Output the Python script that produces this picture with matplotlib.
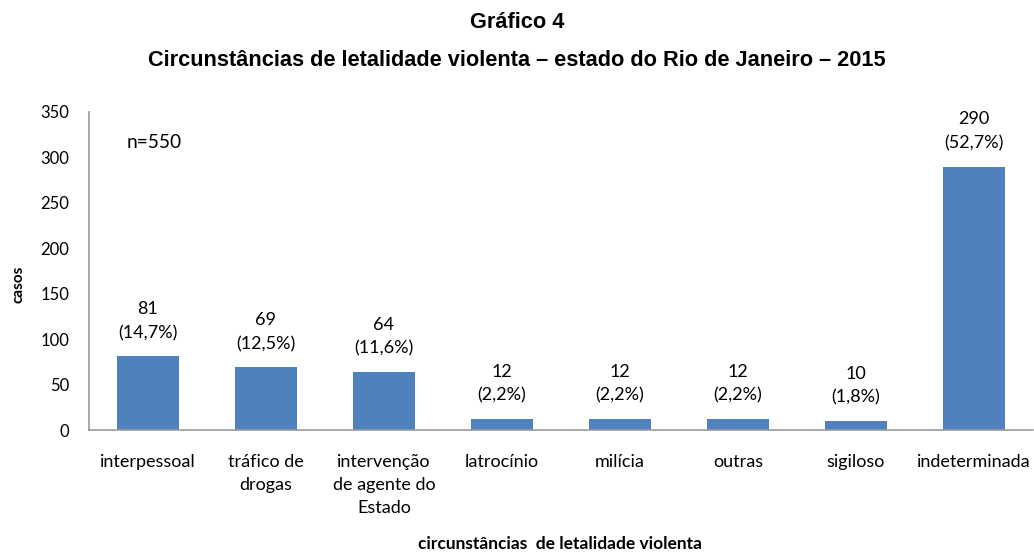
import matplotlib

matplotlib.use("Agg")
import matplotlib.pyplot as plt
from matplotlib import font_manager

categories = [
    "interpessoal",
    "tráfico de\ndrogas",
    "intervenção\nde agente do\nEstado",
    "latrocínio",
    "milícia",
    "outras",
    "sigiloso",
    "indeterminada",
]
casos = [81, 69, 64, 12, 12, 12, 10, 290]
percent = ["14,7%", "12,5%", "11,6%", "2,2%", "2,2%", "2,2%", "1,8%", "52,7%"]

names = {f.name for f in font_manager.fontManager.ttflist}
title_font = "Liberation Sans Narrow" if "Liberation Sans Narrow" in names else "Liberation Sans"
body_font = "Lato"

plt.rcParams["font.family"] = [body_font, "DejaVu Sans"]

fig = plt.figure(figsize=(10.34, 5.53), dpi=100)
ax = fig.add_axes([0.086, 0.2224, 0.913, 0.5751])

x = range(len(categories))
ax.bar(x, casos, width=0.52, color="#4f81bd")

for xi, v, p in zip(x, casos, percent):
    ax.annotate(f"{v}\n({p})", (xi, v), xytext=(0, 11), textcoords="offset points",
                ha="center", va="bottom", fontsize=13, linespacing=1.6)

ax.set_xlim(-0.5, 7.5)
ax.set_ylim(0, 350)
ax.set_yticks(range(0, 351, 50))
ax.set_xticks(list(x))
ax.set_xticklabels(categories, fontsize=13, linespacing=1.55, va="top")
ax.tick_params(axis="both", length=0, labelsize=12)
ax.tick_params(axis="x", pad=17, labelsize=13)
ax.tick_params(axis="y", pad=14)

for side in ["top", "right"]:
    ax.spines[side].set_visible(False)
for side in ["left", "bottom"]:
    ax.spines[side].set_color("#999999")
    ax.spines[side].set_linewidth(1.2)

ax.text(0.04, 0.905, "n=550", transform=ax.transAxes, fontsize=13.8, va="center")

fig.text(0.018, 0.485, "casos", rotation=90, ha="center", va="center",
         fontsize=11, fontweight="bold")
fig.text(0.5416, 0.016, "circunstâncias  de letalidade violenta", ha="center", va="center",
         fontsize=12.5, fontweight="bold")

fig.text(0.5, 0.96, "Gráfico 4", ha="center", va="center", fontsize=15.7,
         fontweight="bold", family=[title_font, "DejaVu Sans"])
fig.text(0.5, 0.891, "Circunstâncias de letalidade violenta – estado do Rio de Janeiro – 2015",
         ha="center", va="center", fontsize=15.7, fontweight="bold",
         family=[title_font, "DejaVu Sans"])

fig.savefig("out.png", dpi=100)
